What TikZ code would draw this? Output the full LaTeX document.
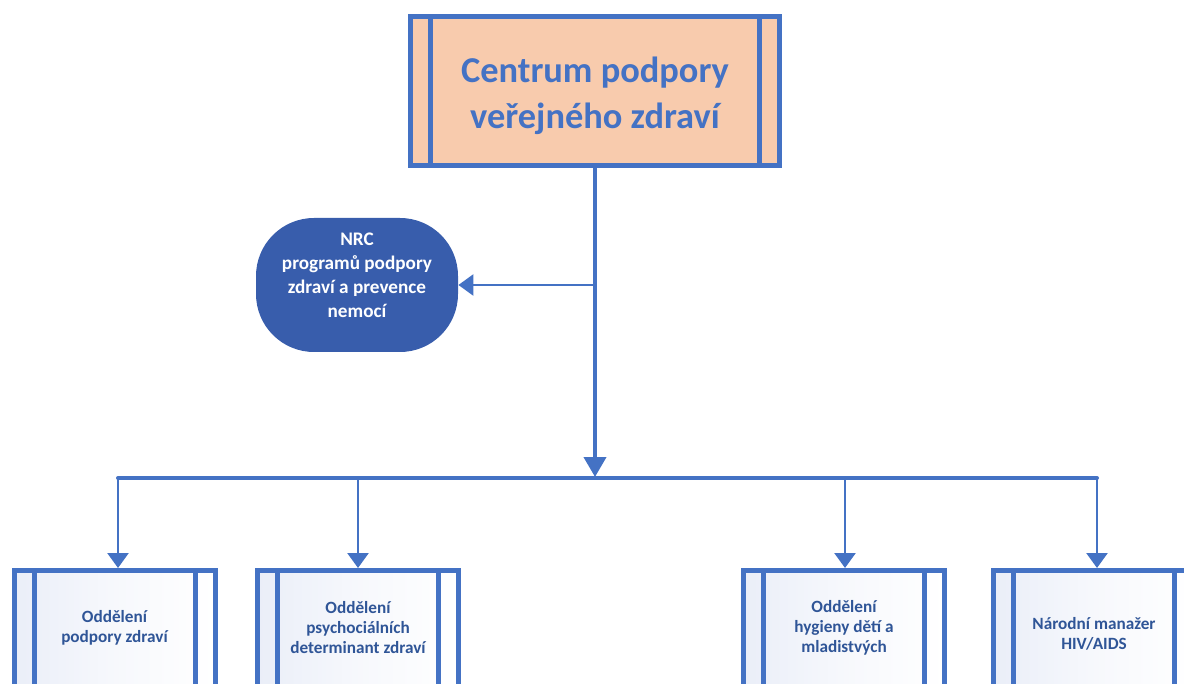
\documentclass[tikz,border=0pt]{standalone}
\usepackage{fontspec}
\setmainfont{Carlito}
\usetikzlibrary{arrows.meta,calc}
\definecolor{bord}{HTML}{4472C4}
\definecolor{peach}{HTML}{F8CBAD}
\definecolor{nrcfill}{RGB}{56,93,172}
\definecolor{dtext}{HTML}{2F5597}
\definecolor{lbfill}{RGB}{234,238,248}
\begin{document}
\begin{tikzpicture}[x=0.5pt,y=-0.5pt,
  procbox/.style={draw=bord, line width=2.5pt, rectangle, inner sep=0pt,
    path picture={\draw[bord,line width=2.5pt]
      ([xshift=10pt]path picture bounding box.south west) -- ([xshift=10pt]path picture bounding box.north west)
      ([xshift=-10pt]path picture bounding box.south east) -- ([xshift=-10pt]path picture bounding box.north east);}},
  lowbox/.style={procbox, anchor=north, minimum width=100.5pt, minimum height=120pt,
    left color=lbfill, right color=white, middle color=white!60!lbfill},
  btext/.style={align=center, text=dtext, font=\fontsize{8.6}{10}\selectfont\bfseries},
  mainarrow/.style={draw=bord, line width=2pt, -{Triangle[length=10pt,width=11pt]}},
  subarrow/.style={draw=bord, line width=1.3pt, -{Triangle[length=7.5pt,width=10.5pt]}},
  busline/.style={draw=bord, line width=2pt, line cap=round}
]
\useasboundingbox (0,0) rectangle (1184,684);
\clip (0,0) rectangle (1184,684);

% top box
\node[procbox, fill=peach, minimum width=184.5pt, minimum height=74.5pt] (top) at (595,91) {};
\node[align=center, text=bord, font=\fontsize{18.2}{23}\selectfont\bfseries] (topt) at (595,96)
      {Centrum podpory\\veřejného zdraví};

% NRC
\node[fill=nrcfill, rounded corners=29pt, minimum width=101pt, minimum height=67pt, inner sep=0pt] (nrc) at (357,285) {};
\node[align=center, text=white, font=\fontsize{9.6}{12}\selectfont\bfseries] (nrct) at (357,275)
      {NRC\\programů podpory\\zdraví a prevence\\nemocí};

% bottom boxes
\node[lowbox] (b1) at (114.5,568) {};
\node[lowbox] (b2) at (358,568) {};
\node[lowbox] (b3) at (844,568) {};
\node[lowbox] (b4) at (1094,568) {};
\node[btext] (b1t) at (114.5,628) {Oddělení\\podpory zdraví};
\node[btext] (b2t) at (358,628) {Oddělení\\psychociálních\\determinant zdraví};
\node[btext] (b3t) at (844,628) {Oddělení\\hygieny dětí a\\mladistvých};
\node[btext] (b4t) at (1094,634) {Národní manažer\\HIV/AIDS};

% connectors
\coordinate (hub) at (595,477);
\coordinate (tap) at (595,285);
\coordinate (j1) at (118,478);
\coordinate (j2) at (358,478);
\coordinate (j3) at (845,478);
\coordinate (j4) at (1097,478);

\draw[mainarrow] (top.south) -- (hub);
\draw[subarrow] (tap) -- (nrc.east);
\draw[busline] (j1) -- (j4);
\draw[subarrow] (j1) -- (j1 |- b1.north);
\draw[subarrow] (j2) -- (j2 |- b2.north);
\draw[subarrow] (j3) -- (j3 |- b3.north);
\draw[subarrow] (j4) -- (j4 |- b4.north);
\end{tikzpicture}
\end{document}
